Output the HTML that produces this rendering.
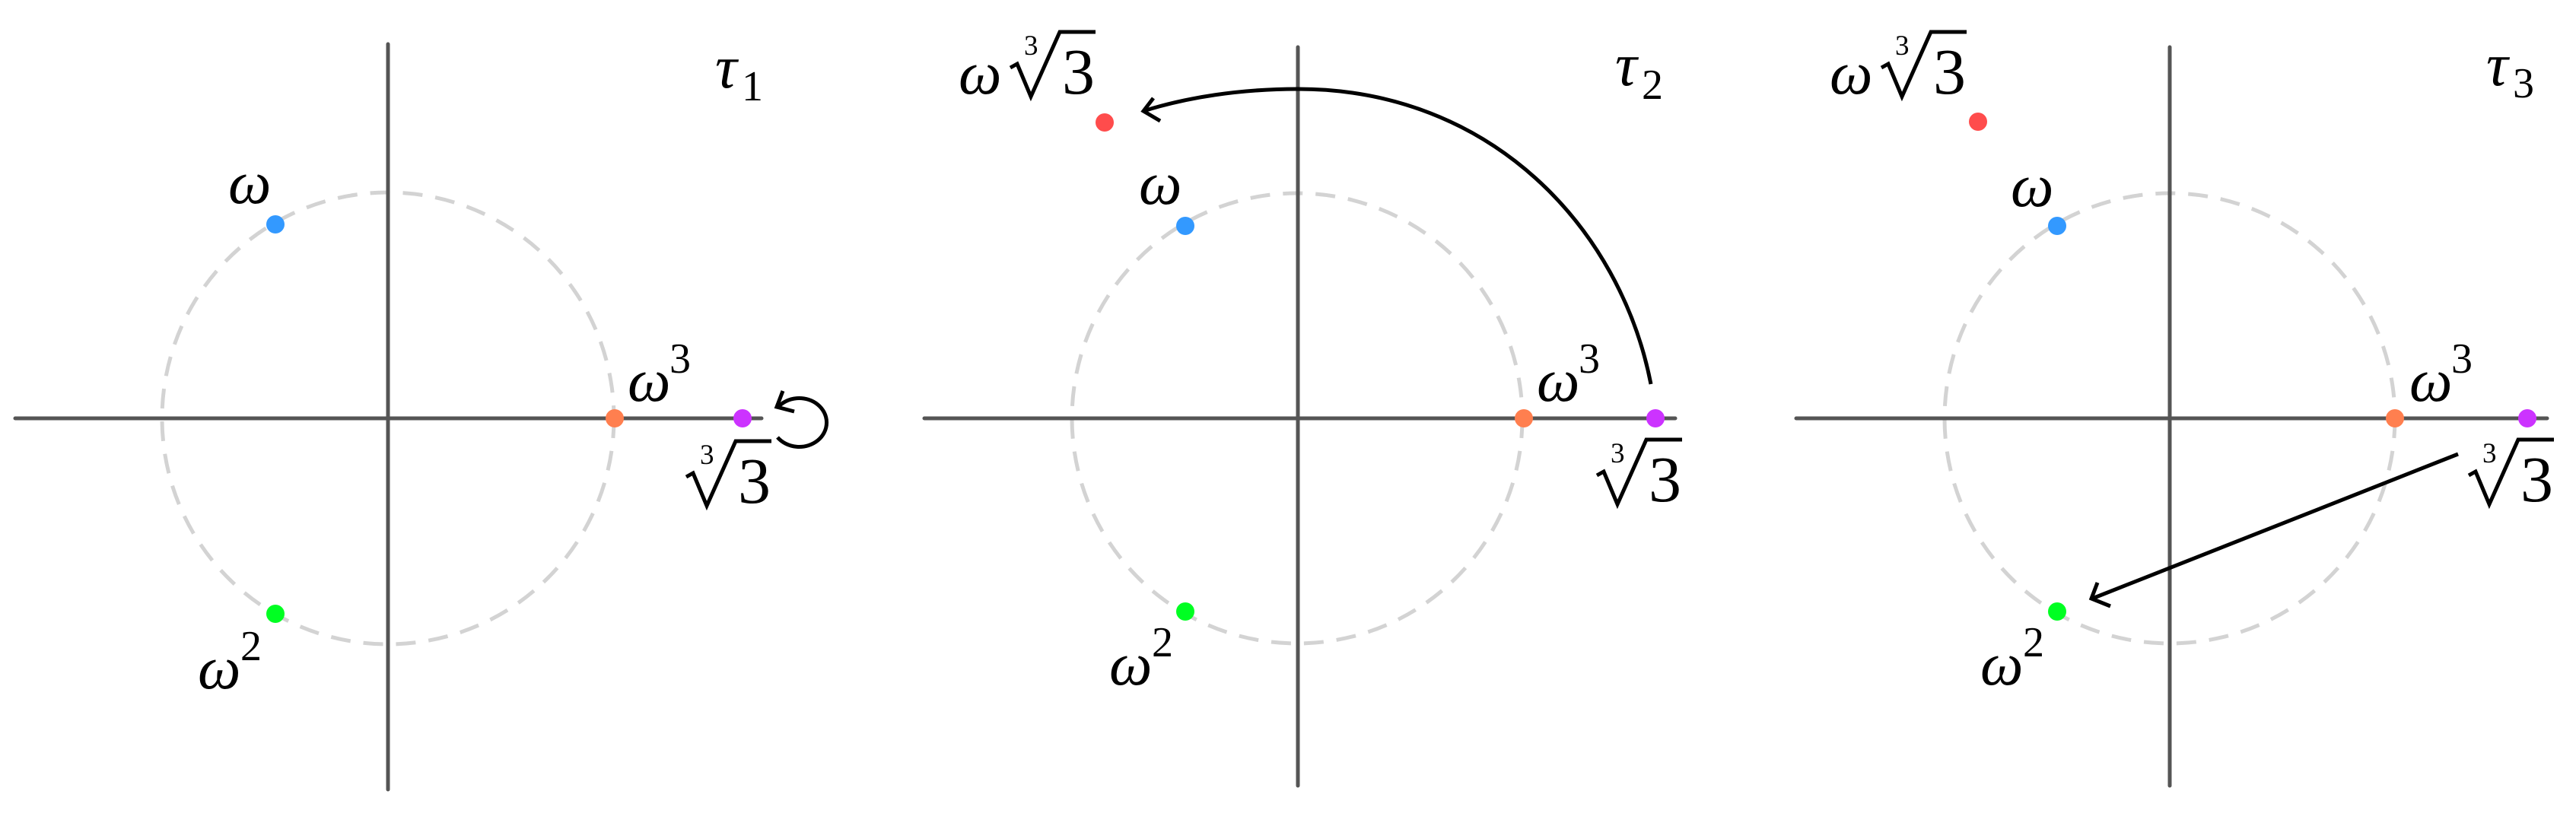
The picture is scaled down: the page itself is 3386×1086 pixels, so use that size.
<!DOCTYPE html>
<html><head><meta charset="utf-8"><style>
html,body{margin:0;padding:0;background:#fff;}
svg{display:block}
text{font-family:"Liberation Serif","DejaVu Serif",serif;fill:#000}
.it{font-style:italic}
</style></head><body>
<svg width="3386" height="1086" viewBox="0 0 3386 1086" xmlns="http://www.w3.org/2000/svg">
<defs>
<g id="rad">
<path d="M0,48 L9,43 L27,86 L65,1 L112,1" fill="none" stroke="#000" stroke-width="5" stroke-linejoin="miter"/>
<text x="18" y="31" font-size="37">3</text>
<text x="68" y="82" font-size="86">3</text>
</g>
</defs>

<!-- Panel 1 -->
<circle cx="510" cy="550" r="297" fill="none" stroke="#d3d3d3" stroke-width="5" stroke-dasharray="26 17"/>
<line x1="20" y1="550" x2="1001" y2="550" stroke="#555" stroke-width="5" stroke-linecap="round"/>
<line x1="510" y1="58" x2="510" y2="1038" stroke="#555" stroke-width="5" stroke-linecap="round"/>
<circle cx="362" cy="295" r="12" fill="#3399ff"/>
<circle cx="362" cy="807" r="12" fill="#00ff22"/>
<circle cx="808" cy="550" r="12" fill="#ff7f4f"/>
<circle cx="976" cy="550" r="12" fill="#cc33ff"/>
<path d="M1022,575 A36,32 0 1,0 1022,536" fill="none" stroke="#000" stroke-width="5"/>
<path d="M1029,514 L1021,535 L1044,541" fill="none" stroke="#000" stroke-width="5"/>
<text class="it" x="300" y="267" font-size="80">ω</text>
<text class="it" x="825" y="527" font-size="80">ω</text>
<text x="880" y="490" font-size="56">3</text>
<text class="it" x="260" y="905" font-size="80">ω</text>
<text x="316" y="868" font-size="56">2</text>
<text class="it" x="940" y="115" font-size="80">τ</text>
<text x="975" y="132" font-size="56">1</text>
<use href="#rad" x="902" y="579"/>

<!-- Panel 2 -->
<circle cx="1705" cy="550" r="296" fill="none" stroke="#d3d3d3" stroke-width="5" stroke-dasharray="26 17"/>
<line x1="1215" y1="550" x2="2202" y2="550" stroke="#555" stroke-width="5" stroke-linecap="round"/>
<line x1="1706" y1="62" x2="1706" y2="1033" stroke="#555" stroke-width="5" stroke-linecap="round"/>
<circle cx="1452" cy="161" r="12" fill="#ff4c4c"/>
<circle cx="1558" cy="297" r="12" fill="#3399ff"/>
<circle cx="1558" cy="804" r="12" fill="#00ff22"/>
<circle cx="2003" cy="550" r="12" fill="#ff7f4f"/>
<circle cx="2176" cy="550" r="12" fill="#cc33ff"/>
<path d="M2170,505 C2130,300 1960,117 1706,117 C1630,117 1560,128 1503,146" fill="none" stroke="#000" stroke-width="5"/>
<path d="M1516,129 L1503,146 L1525,159" fill="none" stroke="#000" stroke-width="5"/>
<text class="it" x="1497" y="268" font-size="80">ω</text>
<text class="it" x="2020" y="527" font-size="80">ω</text>
<text x="2075" y="490" font-size="56">3</text>
<text class="it" x="1458" y="900" font-size="80">ω</text>
<text x="1514" y="863" font-size="56">2</text>
<text class="it" x="2123" y="112" font-size="80">τ</text>
<text x="2158" y="130" font-size="56">2</text>
<text class="it" x="1260" y="123" font-size="80">ω</text>
<use href="#rad" x="1328" y="41"/>
<use href="#rad" x="2099" y="577"/>

<!-- Panel 3 -->
<circle cx="2852" cy="550" r="296" fill="none" stroke="#d3d3d3" stroke-width="5" stroke-dasharray="26 17"/>
<line x1="2361" y1="550" x2="3348" y2="550" stroke="#555" stroke-width="5" stroke-linecap="round"/>
<line x1="2852" y1="62" x2="2852" y2="1033" stroke="#555" stroke-width="5" stroke-linecap="round"/>
<circle cx="2600" cy="160" r="12" fill="#ff4c4c"/>
<circle cx="2704" cy="297" r="12" fill="#3399ff"/>
<circle cx="2704" cy="804" r="12" fill="#00ff22"/>
<circle cx="3148" cy="550" r="12" fill="#ff7f4f"/>
<circle cx="3322" cy="550" r="12" fill="#cc33ff"/>
<line x1="3231" y1="597" x2="2750" y2="787" stroke="#000" stroke-width="5"/>
<path d="M2757,766 L2749,787 L2774,797" fill="none" stroke="#000" stroke-width="5"/>
<text class="it" x="2643" y="271" font-size="80">ω</text>
<text class="it" x="3167" y="527" font-size="80">ω</text>
<text x="3222" y="490" font-size="56">3</text>
<text class="it" x="2603" y="900" font-size="80">ω</text>
<text x="2659" y="863" font-size="56">2</text>
<text class="it" x="3268" y="112" font-size="80">τ</text>
<text x="3303" y="128" font-size="56">3</text>
<text class="it" x="2405" y="123" font-size="80">ω</text>
<use href="#rad" x="2473" y="41"/>
<use href="#rad" x="3245" y="577"/>
</svg>
</body></html>
